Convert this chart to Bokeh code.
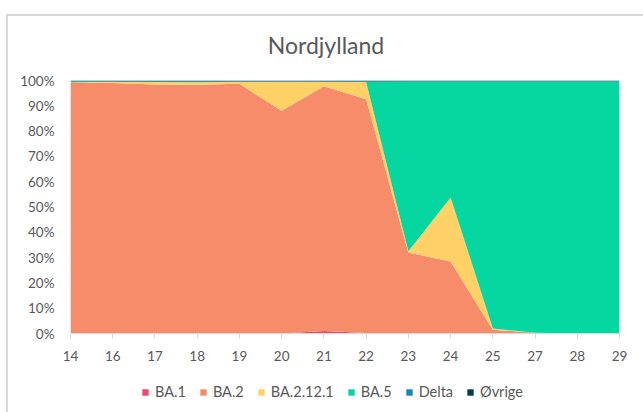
from bokeh.plotting import figure
from bokeh.layouts import column
from bokeh.models import (ColumnDataSource, FixedTicker, NumeralTickFormatter,
                          Legend, LegendItem, Range1d, Div)
from bokeh.embed import file_html
from bokeh.resources import INLINE

weeks = ["14", "16", "17", "18", "19", "20", "21", "22", "23", "24", "25", "27", "28", "29"]
ba1 = [0, 0, 0, 0, 0, 0, 1.0, 0.2, 0, 0, 0, 0, 0, 0]
ba2 = [99.3, 99.0, 98.4, 98.3, 98.7, 88.0, 96.7, 92.4, 32.0, 28.5, 1.5, 0.3, 0, 0]
ba2121 = [0, 0.5, 1.0, 1.0, 0.8, 11.5, 1.8, 6.8, 0.5, 25.3, 0.5, 0, 0, 0]
ba5 = [0.4, 0.1, 0.2, 0.3, 0.1, 0.1, 0.1, 0.2, 67.2, 45.9, 97.7, 99.4, 99.7, 99.7]
delta = [0, 0, 0, 0, 0, 0, 0, 0, 0, 0, 0, 0, 0, 0]
ovrige = [0.3, 0.4, 0.4, 0.4, 0.4, 0.4, 0.4, 0.4, 0.3, 0.3, 0.3, 0.3, 0.3, 0.3]

title = "Nordjylland"
names = ["BA.1", "BA.2", "BA.2.12.1", "BA.5", "Delta", "Øvrige"]
colors = ["#EF476F", "#F78C6B", "#FFD166", "#06D6A0", "#118AB2", "#073B4C"]
series = [ba1, ba2, ba2121, ba5, delta, ovrige]

FONT = "Lato"
GREY = "#595959"

n = len(weeks)
data = {"x": list(range(n))}
keys = []
tot = [sum(col) for col in zip(*series)]
for i, s in enumerate(series):
    k = f"s{i}"
    data[k] = [v / t for v, t in zip(s, tot)]
    keys.append(k)
src = ColumnDataSource(data)

head = Div(text=title, width=633, height=38,
           styles={"font-family": FONT, "font-size": "23px", "color": GREY,
                   "line-height": "28px", "text-align": "center",
                   "padding-top": "10px", "padding-right": "7px"})

p = figure(width=633, height=306, output_backend="svg", toolbar_location=None,
           x_range=Range1d(0, n - 1), y_range=Range1d(0, 1),
           min_border_left=62, min_border_right=22, min_border_top=16,
           min_border_bottom=37)

p.varea_stack(stackers=keys, x="x", color=colors, source=src)

p.outline_line_color = None
p.xgrid.grid_line_color = None
p.ygrid.grid_line_color = None

p.xaxis.ticker = FixedTicker(ticks=list(range(n)))
p.xaxis.major_label_overrides = {i: w for i, w in enumerate(weeks)}
p.xaxis.axis_line_color = "#d9d9d9"
p.xaxis.major_tick_line_color = "#d9d9d9"
p.xaxis.major_tick_out = 5
p.xaxis.major_tick_in = 0
p.xaxis.minor_tick_line_color = None
p.xaxis.major_label_standoff = 12

p.yaxis.ticker = FixedTicker(ticks=[i / 10 for i in range(11)])
p.yaxis.formatter = NumeralTickFormatter(format="0%")
p.yaxis.axis_line_color = None
p.yaxis.major_tick_line_color = None
p.yaxis.minor_tick_line_color = None
p.yaxis.major_label_standoff = 10

for ax in (p.xaxis[0], p.yaxis[0]):
    ax.major_label_text_font = FONT
    ax.major_label_text_font_size = "13.5px"
    ax.major_label_text_color = GREY

# legend strip below the chart (its own areas lie outside its visible range)
lg = figure(width=633, height=42, output_backend="svg", toolbar_location=None,
            x_axis_type=None, y_axis_type=None,
            x_range=Range1d(0, n - 1), y_range=Range1d(2, 3),
            min_border_left=0, min_border_right=0, min_border_top=0,
            min_border_bottom=0)
lg.outline_line_color = None
lg.xgrid.grid_line_color = None
lg.ygrid.grid_line_color = None
rs = lg.varea_stack(stackers=keys, x="x", color=colors, source=src)
items = [LegendItem(label=nm, renderers=[r]) for nm, r in zip(names, rs)]
legend = Legend(items=items, orientation="horizontal", location=(71, 12),
                glyph_width=8, glyph_height=8, label_standoff=6, spacing=13,
                padding=0, margin=0, border_line_color=None,
                background_fill_alpha=0,
                label_text_font=FONT, label_text_font_size="14.5px",
                label_text_color=GREY)
lg.add_layout(legend, "center")

layout = column(head, p, lg, spacing=0)
layout.styles = {"border-left": "2px solid #d9d9d9", "border-top": "2px solid #d9d9d9",
                 "margin-top": "14px", "margin-left": "6px"}

open("out.html", "w").write(file_html(layout, INLINE))
